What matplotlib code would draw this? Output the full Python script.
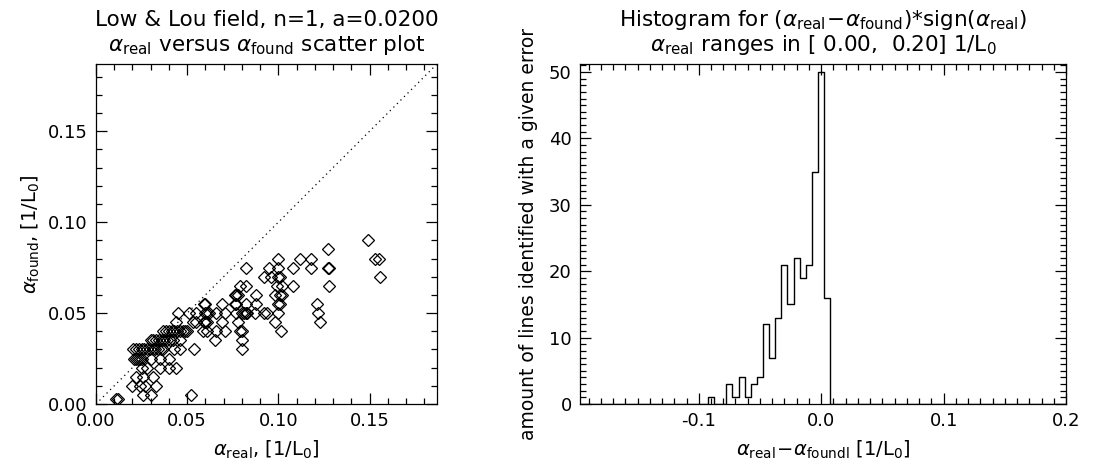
import matplotlib
matplotlib.use("Agg")
import matplotlib.pyplot as plt
from matplotlib.ticker import MultipleLocator, FormatStrFormatter

plt.rcParams['font.family'] = ['DejaVu Sans']
plt.rcParams['mathtext.fontset'] = 'dejavusans'

# ---------------- data: scatter (alpha_found level -> alpha_real values)
found_levels = [0.090, 0.085, 0.080, 0.075, 0.070, 0.065, 0.060, 0.055, 0.050,
                0.045, 0.040, 0.035, 0.030, 0.025, 0.020, 0.015, 0.010, 0.005, 0.003]
real_090 = [0.149]
real_085 = [0.127]
real_080 = [0.100, 0.112, 0.118, 0.153, 0.155]
real_075 = [0.082, 0.095, 0.100, 0.108, 0.118, 0.127, 0.128]
real_070 = [0.092, 0.096, 0.100, 0.101, 0.156]
real_065 = [0.079, 0.082, 0.099, 0.102, 0.108, 0.128]
real_060 = [0.076, 0.077, 0.078, 0.088, 0.098, 0.101, 0.102]
real_055 = [0.059, 0.060, 0.069, 0.076, 0.077, 0.082, 0.088, 0.100, 0.101, 0.121]
real_050 = [0.045, 0.051, 0.055, 0.060, 0.061, 0.062, 0.066, 0.071, 0.077, 0.080,
            0.081, 0.082, 0.083, 0.087, 0.092, 0.094, 0.100, 0.122]
real_045 = [0.044, 0.053, 0.055, 0.059, 0.060, 0.061, 0.069, 0.078, 0.098, 0.123]
real_040 = [0.037, 0.0385, 0.040, 0.0415, 0.043, 0.0445, 0.046, 0.0475, 0.049, 0.050,
            0.0585, 0.061, 0.066, 0.071, 0.079, 0.080, 0.1015]
real_035 = [0.030, 0.0315, 0.033, 0.0345, 0.036, 0.0375, 0.039, 0.0405, 0.042, 0.046,
            0.065, 0.080]
real_030 = [0.0205, 0.022, 0.0235, 0.025, 0.0265, 0.028, 0.0295, 0.031, 0.0325, 0.034,
            0.0355, 0.037, 0.0425, 0.046, 0.0535, 0.080]
real_025 = [0.021, 0.022, 0.023, 0.024, 0.025, 0.030, 0.035, 0.040]
real_020 = [0.025, 0.028, 0.035, 0.040, 0.044]
real_015 = [0.022, 0.026, 0.031]
real_010 = [0.020, 0.024, 0.027, 0.033]
real_005 = [0.026, 0.030, 0.052]
real_003 = [0.011, 0.012]
real_by_level = [real_090, real_085, real_080, real_075, real_070, real_065, real_060,
                 real_055, real_050, real_045, real_040, real_035, real_030, real_025,
                 real_020, real_015, real_010, real_005, real_003]

# ---------------- data: histogram of (alpha_real - alpha_found)
hist_centers = [-0.090, -0.085, -0.080, -0.075, -0.070, -0.065, -0.060, -0.055, -0.050,
                -0.045, -0.040, -0.035, -0.030, -0.025, -0.020, -0.015, -0.010, -0.005,
                0.000, 0.005]
hist_counts = [1, 0, 0, 3, 1, 4, 1, 3, 4, 12, 7, 13, 21, 15, 22, 19, 21, 35, 50, 16]

# ---------------- figure
W, H = 1093, 473
fig = plt.figure(figsize=(W / 100, H / 100), dpi=100)

def frac(x0, y0, x1, y1):
    return [x0 / W, 1 - y1 / H, (x1 - x0) / W, (y1 - y0) / H]

ax1 = fig.add_axes(frac(96, 64, 437, 404))
ax2 = fig.add_axes(frac(580, 64, 1066, 404))

fs_tick = 13
fs_lab = 14
fs_title = 15.5
for ax in (ax1, ax2):
    ax.tick_params(which='both', direction='in', top=True, right=True,
                   labelsize=fs_tick, pad=6)
    ax.tick_params(which='major', length=8, width=0.9)
    ax.tick_params(which='minor', length=4, width=0.9)
    for s in ax.spines.values():
        s.set_linewidth(0.9)

# ---- left: scatter
xs, ys = [], []
for lev, reals in zip(found_levels, real_by_level):
    for r in reals:
        xs.append(r)
        ys.append(lev)
lim = 0.187
ax1.plot([0, lim], [0, lim], linestyle=(0, (1, 3)), color='black', lw=0.9)
ax1.plot(xs, ys, linestyle='none', marker='D', ms=6, mfc='none', mec='black', mew=0.9)
ax1.set_xlim(0, lim)
ax1.set_ylim(0, lim)
ax1.xaxis.set_major_locator(MultipleLocator(0.05))
ax1.xaxis.set_minor_locator(MultipleLocator(0.01))
ax1.yaxis.set_major_locator(MultipleLocator(0.05))
ax1.yaxis.set_minor_locator(MultipleLocator(0.01))
ax1.xaxis.set_major_formatter(FormatStrFormatter('%.2f'))
ax1.yaxis.set_major_formatter(FormatStrFormatter('%.2f'))
ax1.set_xlabel(r'$\alpha_{\rm real}$, [1/L$_0$]', fontsize=fs_lab, labelpad=6)
ax1.set_ylabel(r'$\alpha_{\rm found}$, [1/L$_0$]', fontsize=fs_lab, labelpad=4)

def fig_y(py):
    return 1 - py / H

cx1 = (96 + 437) / 2 / W
cx2 = (580 + 1066) / 2 / W
fig.text(cx1, fig_y(20), 'Low & Lou field, n=1, a=0.0200', ha='center', va='center',
         fontsize=fs_title)
fig.text(cx1, fig_y(45), r'$\alpha_{\rm real}$ versus $\alpha_{\rm found}$ scatter plot',
         ha='center', va='center', fontsize=fs_title)

# ---- right: histogram (step, centred bins)
bw = 0.005
xe = [hist_centers[0] - bw / 2] + [c + bw / 2 for c in hist_centers]
xstep = [-0.2, xe[0]]
ystep = [0, 0]
for i, c in enumerate(hist_counts):
    xstep += [xe[i], xe[i + 1]]
    ystep += [c, c]
xstep += [xe[-1], 0.2]
ystep += [0, 0]
ax2.plot(xstep, ystep, color='black', lw=1.0)
ax2.set_xlim(-0.197, 0.2)
ax2.set_ylim(0, 51.2)
ax2.xaxis.set_major_locator(MultipleLocator(0.1))
ax2.xaxis.set_minor_locator(MultipleLocator(0.01))
ax2.yaxis.set_major_locator(MultipleLocator(10))
ax2.yaxis.set_minor_locator(MultipleLocator(1))
ax2.xaxis.set_major_formatter(FormatStrFormatter('%.1f'))
ax2.yaxis.set_major_formatter(FormatStrFormatter('%d'))
ax2.set_xlabel(r'$\alpha_{\rm real}\!-\!\alpha_{\rm foundl}$ [1/L$_0$]', fontsize=fs_lab,
               labelpad=6)
ax2.set_ylabel('amount of lines identified with a given error', fontsize=13.5, labelpad=8)
fig.text(cx2, fig_y(20),
         r'Histogram for $(\alpha_{\rm real}\!-\!\alpha_{\rm found})$*sign$(\alpha_{\rm real})$',
         ha='center', va='center', fontsize=fs_title)
fig.text(cx2, fig_y(45), r'$\alpha_{\rm real}$ ranges in [ 0.00,  0.20] 1/L$_0$',
         ha='center', va='center', fontsize=fs_title)

fig.savefig('out.png', dpi=100)
